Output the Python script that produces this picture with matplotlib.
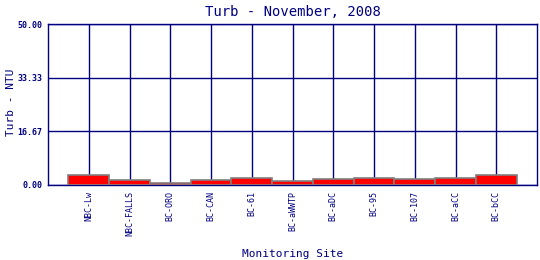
import numpy as np
import matplotlib
matplotlib.use("Agg")
import matplotlib.pyplot as plt

# data
sites = ["NBC-Lw", "NBC-FALLS", "BC-ORO", "BC-CAN", "BC-61", "BC-aWWTP",
         "BC-aDC", "BC-95", "BC-107", "BC-aCC", "BC-bCC"]
turb = [3.1, 1.45, 0.6, 1.45, 2.1, 1.25, 1.85, 2.2, 1.85, 2.1, 3.1]
yticks = [0.0, 16.67, 33.33, 50.0]

NAVY = "#000080"
plt.rcParams["font.family"] = "DejaVu Sans Mono"

fig = plt.figure(figsize=(5.4, 2.6), dpi=100)
ax = fig.add_axes([48 / 540, 1 - 185 / 260, 489 / 540, 161 / 260])

x = np.arange(1, len(sites) + 1)
ax.bar(x, turb, width=1.0, color="#ff0000", edgecolor="#808080",
       linewidth=1.2, zorder=3)

ax.set_xlim(0, len(sites) + 1)
ax.set_ylim(0, 50)
ax.set_xticks(x)
ax.set_xticklabels(sites, rotation=90, fontsize=6, color=NAVY)
ax.set_yticks(yticks)
ax.set_yticklabels([f"{v:.2f}" for v in yticks], fontsize=6, color=NAVY,
                   fontweight="bold")
ax.tick_params(length=0, pad=4)

ax.grid(True, color=NAVY, linewidth=1.0, zorder=0)
ax.set_axisbelow(True)
for s in ax.spines.values():
    s.set_color(NAVY)
    s.set_linewidth(1.0)

ax.set_title("Turb - November, 2008", fontsize=10, color=NAVY, pad=6)
fig.text(11 / 540, 1 - 102 / 260, "Turb - NTU", rotation=90, fontsize=8,
         color=NAVY, ha="center", va="center")
ax.set_xlabel("Monitoring Site", fontsize=8, color=NAVY, labelpad=10)

fig.savefig("out.png", dpi=100)
